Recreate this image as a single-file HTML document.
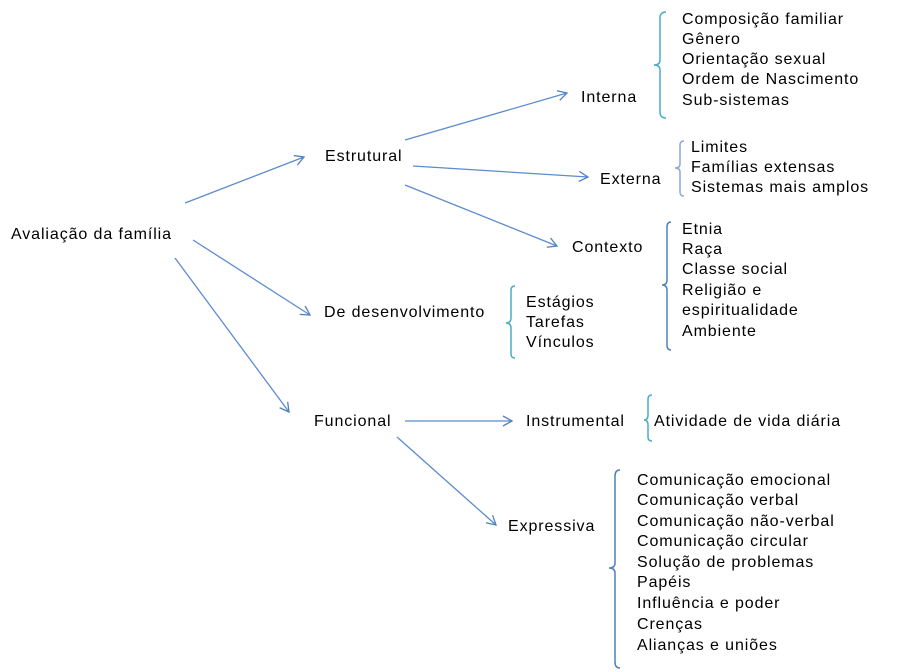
<!DOCTYPE html>
<html><head><meta charset="utf-8"><style>
html,body{margin:0;padding:0;background:#fff;}
svg{display:block;}
text{font-family:"Liberation Sans",Arial,sans-serif;font-size:16px;fill:#000;letter-spacing:0.9px;}
</style></head><body>
<svg width="919" height="672" viewBox="0 0 919 672" xmlns="http://www.w3.org/2000/svg">
<defs>
<marker id="a" markerWidth="12" markerHeight="12" refX="10" refY="6" orient="auto" markerUnits="userSpaceOnUse">
<path d="M1,1 L10,6 L1,11" fill="none" stroke="#4f81bd" stroke-width="1.3"/>
</marker>
</defs>
<g stroke="#5b8bd0" stroke-width="1.3" fill="none" marker-end="url(#a)">
<line x1="185" y1="203" x2="304" y2="157"/>
<line x1="193" y1="240" x2="310" y2="315"/>
<line x1="175" y1="258" x2="289" y2="412"/>
<line x1="405" y1="140" x2="567" y2="93"/>
<line x1="413" y1="166" x2="588" y2="177"/>
<line x1="405" y1="185" x2="557" y2="246"/>
<line x1="405" y1="421" x2="512" y2="421"/>
<line x1="397" y1="437" x2="496" y2="525"/>
</g>
<g fill="none" stroke-width="1.5">
<path d="M666,12 Q660,12 660,18 L660,60 Q660,65 654,65 Q660,65 660,70 L660,112 Q660,118 666,118" stroke="#4bacc6"/>
<path d="M684,141 Q680,141 680,145 L680,164 Q680,168 675,168 Q680,168 680,172 L680,192 Q680,196 684,196" stroke="#8fa6d9"/>
<path d="M671,222 Q667,222 667,227 L667,280 Q667,285 662,285 Q667,285 667,290 L667,345 Q667,350 671,350" stroke="#4f81bd"/>
<path d="M515,286 Q511,286 511,290 L511,318 Q511,323 506,323 Q511,323 511,328 L511,354 Q511,358 515,358" stroke="#4bacc6"/>
<path d="M652,395 Q648,395 648,399 L648,415 Q648,420 644,420 Q648,420 648,425 L648,437 Q648,441 652,441" stroke="#4bacc6"/>
<path d="M620,470 Q615,470 615,476 L615,563 Q615,568 609,568 Q615,568 615,573 L615,662 Q615,668 620,668" stroke="#4f81bd"/>
</g>
<text x="11" y="239">Avaliação da família</text>
<text x="325" y="161">Estrutural</text>
<text x="324" y="317">De desenvolvimento</text>
<text x="314" y="426">Funcional</text>
<text x="581" y="102">Interna</text>
<text x="600" y="184">Externa</text>
<text x="572" y="252">Contexto</text>
<text x="526" y="426">Instrumental</text>
<text x="508" y="531">Expressiva</text>
<text x="682" y="24">Composição familiar</text>
<text x="682" y="44">Gênero</text>
<text x="682" y="64">Orientação sexual</text>
<text x="682" y="84">Ordem de Nascimento</text>
<text x="682" y="105">Sub-sistemas</text>
<text x="691" y="152">Limites</text>
<text x="691" y="172">Famílias extensas</text>
<text x="691" y="192">Sistemas mais amplos</text>
<text x="682" y="234">Etnia</text>
<text x="682" y="254">Raça</text>
<text x="682" y="274">Classe social</text>
<text x="682" y="295">Religião e</text>
<text x="682" y="315">espiritualidade</text>
<text x="682" y="336">Ambiente</text>
<text x="526" y="307">Estágios</text>
<text x="526" y="327">Tarefas</text>
<text x="526" y="347">Vínculos</text>
<text x="654" y="426">Atividade de vida diária</text>
<text x="637" y="485">Comunicação emocional</text>
<text x="637" y="505">Comunicação verbal</text>
<text x="637" y="526">Comunicação não-verbal</text>
<text x="637" y="546">Comunicação circular</text>
<text x="637" y="567">Solução de problemas</text>
<text x="637" y="587">Papéis</text>
<text x="637" y="608">Influência e poder</text>
<text x="637" y="629">Crenças</text>
<text x="637" y="650">Alianças e uniões</text>
</svg>
</body></html>
